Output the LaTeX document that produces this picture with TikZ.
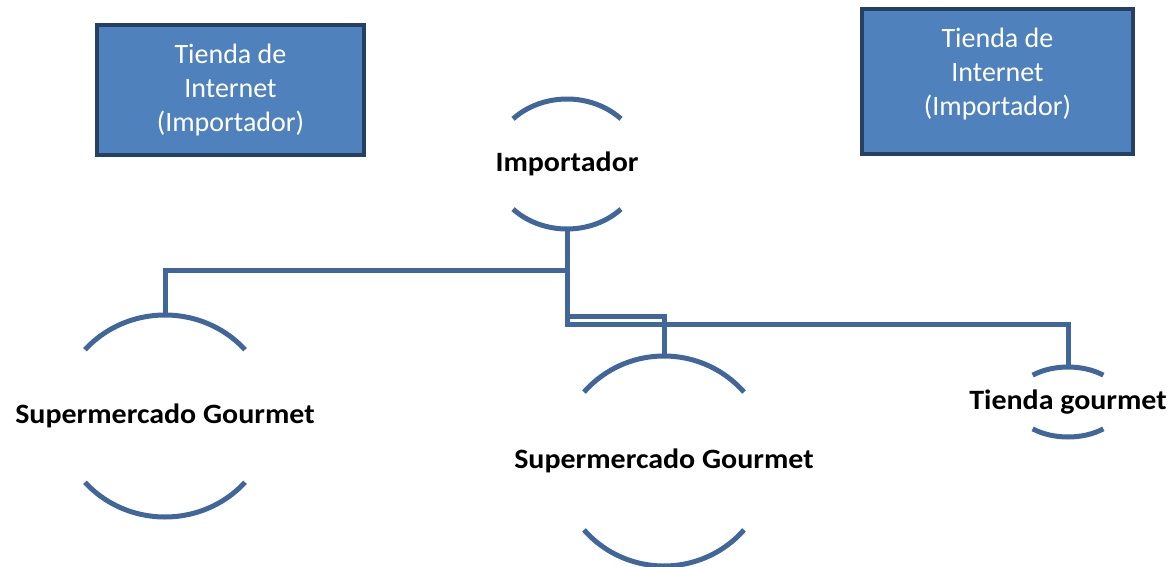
\documentclass[tikz,border=0pt]{standalone}
\usepackage{fontspec}
\setmainfont{Carlito}
\newfontfamily\actorfont{Carlito}[FakeStretch=1.07]
\definecolor{boxfill}{RGB}{79,129,189}
\definecolor{boxedge}{RGB}{36,64,98}
\definecolor{linkblue}{RGB}{65,103,154}
\tikzset{
  shop/.style={rectangle, draw=boxedge, line width=4pt, fill=boxfill},
  shoptext/.style={text=white, align=center, inner sep=0pt, font=\fontsize{28}{34}\selectfont},
  actor/.style={rectangle, draw=none, inner sep=0pt, font=\actorfont\bfseries\fontsize{28}{34}\selectfont},
  link/.style={draw=linkblue, line width=5pt},
}
% top and bottom arcs round a node: node, x radius, y radius, start angle
\newcommand{\caparcs}[4]{%
  \draw[link] (#1.center) ++(#4:#2 and #3) arc[start angle=#4, delta angle={180-2*#4}, x radius=#2, y radius=#3];
  \draw[link] (#1.center) ++({180+#4}:#2 and #3) arc[start angle={180+#4}, delta angle={180-2*#4}, x radius=#2, y radius=#3];
}
\begin{document}
\begin{tikzpicture}[x=1pt, y=1pt]
  \useasboundingbox (0,0) rectangle (1176,566);

  % online shops
  \node[shop, shoptext, minimum width=267, minimum height=130] (shopL) at (230.5,476) {Tienda de\\Internet\\(Importador)};
  \node[shop, minimum width=271, minimum height=145] (shopR) at (997.5,484.5) {};
  \node[shoptext] (shopRtext) at ([yshift=7.5]shopR.center) {Tienda de\\Internet\\(Importador)};

  % actors
  \node[actor, minimum height=130] (imp) at (567,402) {Importador};
  \node[actor, minimum height=202] (sup1) at (165,150) {Supermercado Gourmet};
  \node[actor, minimum height=210] (sup2) at (664,105) {Supermercado Gourmet};
  \node[actor, minimum height=70] (tg) at (1068,164) {\raisebox{-3pt}{Tienda gourmet}};

  \caparcs{imp}{75}{65}{44}
  \caparcs{sup1}{106}{101}{41}
  \caparcs{sup2}{106}{105}{41}
  \caparcs{tg}{55}{35}{50}

  % distribution
  \draw[link] (imp.south) -- ++(0,-41) -| (sup1.north);
  \draw[link] (imp.south) -- ++(0,-95) -| (tg.north);
  \draw[link] (imp.south) ++(0,-87) -| (sup2.north);
\end{tikzpicture}
\end{document}
